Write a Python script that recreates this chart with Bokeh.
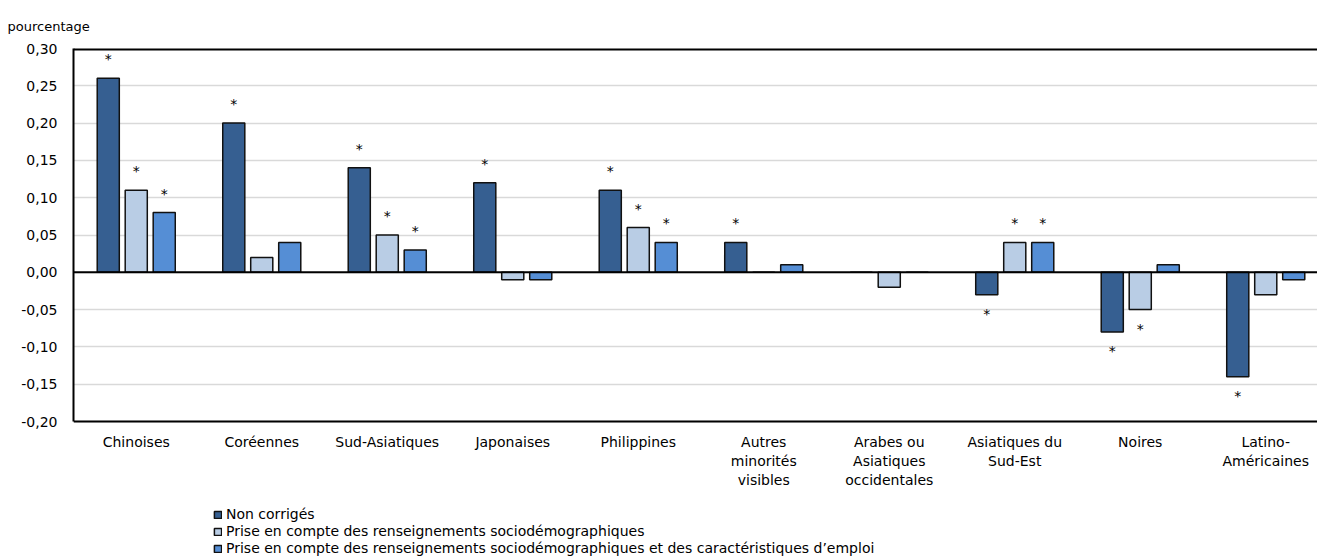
from bokeh.plotting import figure
from bokeh.models import (ColumnDataSource, Range1d, FixedTicker, CustomJSTickFormatter,
                          Span, Legend, LegendItem)
from bokeh.core.properties import value
from bokeh.embed import file_html
from bokeh.resources import INLINE

# ---------------- data ----------------
categories = ["Chinoises", "Coréennes", "Sud-Asiatiques", "Japonaises", "Philippines",
              "Autres\nminorités\nvisibles", "Arabes ou\nAsiatiques\noccidentales",
              "Asiatiques du\nSud-Est", "Noires", "Latino-\nAméricaines"]
series_names = ["Non corrigés",
                "Prise en compte des renseignements sociodémographiques",
                "Prise en compte des renseignements sociodémographiques et des caractéristiques d’emploi"]
non_corriges = [0.26, 0.20, 0.14, 0.12, 0.11, 0.04, 0.00, -0.03, -0.08, -0.14]
socio = [0.11, 0.02, 0.05, -0.01, 0.06, 0.00, -0.02, 0.04, -0.05, -0.03]
socio_emploi = [0.08, 0.04, 0.03, -0.01, 0.04, 0.01, 0.00, 0.04, 0.01, -0.01]
sig_non = [1, 1, 1, 1, 1, 1, 0, 1, 1, 1]
sig_socio = [1, 0, 1, 0, 1, 0, 0, 1, 1, 0]
sig_emploi = [1, 0, 1, 0, 1, 0, 0, 1, 0, 0]
y_ticks = [-0.20, -0.15, -0.10, -0.05, 0.00, 0.05, 0.10, 0.15, 0.20, 0.25, 0.30]
y_min, y_max = -0.20, 0.30
unit_label = "pourcentage"

colors = ["#365F91", "#B9CDE5", "#558ED5"]
FONT = "DejaVu Sans"
FS = "14px"

W, H = 1317, 559
left, top = 73, 48
px_per_unit = (421 - top) / (y_max - y_min)
y_bottom = y_min - (H - 421) / px_per_unit
x_end = (W - left) / 125.5

p = figure(width=W, height=H, output_backend="svg", toolbar_location=None,
           x_range=Range1d(0, x_end), y_range=Range1d(y_bottom, y_max),
           min_border_left=left, min_border_top=top, min_border_bottom=0, min_border_right=0)
p.outline_line_color = None
p.background_fill_color = "white"
p.border_fill_color = "white"

# unit label as title
p.title.text = unit_label
p.title.align = "left"
p.title.offset = -(left - 7)
p.title.text_font = FONT
p.title.text_font_size = "13px"
p.title.text_font_style = "normal"
p.title.text_color = "black"
p.title.text_line_height = 0.6
p.title.standoff = 29

# axes
p.xaxis.visible = False
p.yaxis.ticker = FixedTicker(ticks=y_ticks)
p.yaxis.bounds = (y_min, y_max)
p.yaxis.formatter = CustomJSTickFormatter(code="return tick.toFixed(2).replace('.', ',');")
p.yaxis.major_tick_line_color = None
p.yaxis.minor_tick_line_color = None
p.yaxis.axis_line_color = "black"
p.yaxis.axis_line_width = 2
p.yaxis.major_label_standoff = 10
p.yaxis.major_label_text_font = FONT
p.yaxis.major_label_text_font_size = FS
p.yaxis.major_label_text_color = "black"

p.xgrid.grid_line_color = None
p.ygrid.ticker = FixedTicker(ticks=y_ticks)
p.ygrid.grid_line_color = "#d9d9d9"
p.ygrid.grid_line_width = 1.5

# bars
offsets = [-0.223, 0.0, 0.223]
bar_w = 0.176
renderers = []
for vals, sig, col, off in zip([non_corriges, socio, socio_emploi],
                               [sig_non, sig_socio, sig_emploi], colors, offsets):
    xs = [i + 0.5 + off for i in range(len(categories))]
    src = ColumnDataSource(dict(x=xs, top=vals))
    r = p.vbar(x="x", top="top", bottom=0, width=bar_w, source=src,
               fill_color=col, line_color="#111111", line_width=1.5)
    renderers.append(r)
    pos = [(x, v) for x, v, s in zip(xs, vals, sig) if s and v >= 0]
    neg = [(x, v) for x, v, s in zip(xs, vals, sig) if s and v < 0]
    if pos:
        p.text(x=[a for a, b in pos], y=[b for a, b in pos], text=["*"] * len(pos),
               text_align="center", text_baseline="alphabetic", y_offset=-19,
               text_font=value(FONT), text_font_size=FS, text_color="black")
    if neg:
        p.text(x=[a for a, b in neg], y=[b for a, b in neg], text=["*"] * len(neg),
               text_align="center", text_baseline="alphabetic", y_offset=19,
               text_font=value(FONT), text_font_size=FS, text_color="black")

# category labels below the plot area
p.text(x=[i + 0.5 for i in range(len(categories))], y=[y_min] * len(categories), text=categories,
       text_align="center", text_baseline="top", y_offset=12, text_line_height=1.2,
       text_font=value(FONT), text_font_size=FS, text_color="black")

# frame lines
p.add_layout(Span(location=0, dimension="width", line_color="black", line_width=2))
p.add_layout(Span(location=y_max, dimension="width", line_color="black", line_width=4))
p.add_layout(Span(location=y_min, dimension="width", line_color="black", line_width=2))

legend = Legend(items=[LegendItem(label=n, renderers=[r]) for n, r in zip(series_names, renderers)],
                location=(140, 3), orientation="vertical",
                glyph_width=9, glyph_height=9, label_height=15, spacing=1,
                padding=0, margin=0, label_standoff=4,
                label_text_font=FONT, label_text_font_size=FS, label_text_color="black",
                border_line_color=None, background_fill_alpha=0)
p.add_layout(legend, "center")

open("out.html", "w").write(file_html(p, INLINE))
